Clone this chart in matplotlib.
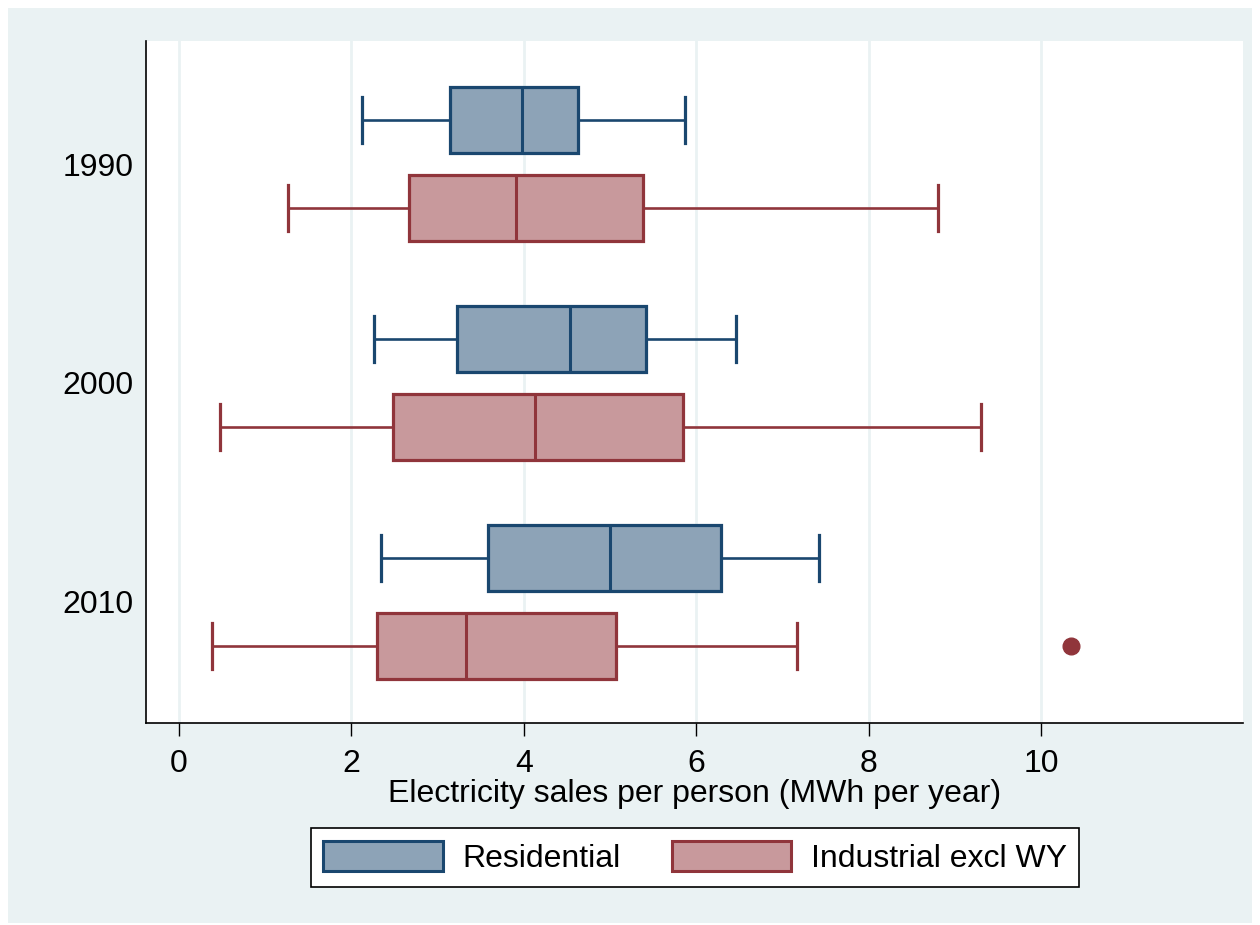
import matplotlib
matplotlib.use("Agg")
import matplotlib.pyplot as plt
from matplotlib.patches import Patch, Rectangle

plt.rcParams['font.family'] = ['Liberation Sans', 'DejaVu Sans']

years = ["1990", "2000", "2010"]
series = ["Residential", "Industrial excl WY"]

# five-number summaries per year
res_lo = [2.13, 2.26, 2.34]
res_q1 = [3.15, 3.23, 3.59]
res_med = [3.98, 4.54, 5.00]
res_q3 = [4.63, 5.42, 6.29]
res_hi = [5.87, 6.46, 7.42]
res_out = [[], [], []]

ind_lo = [1.27, 0.48, 0.38]
ind_q1 = [2.67, 2.48, 2.30]
ind_med = [3.91, 4.13, 3.33]
ind_q3 = [5.38, 5.85, 5.07]
ind_hi = [8.80, 9.30, 7.17]
ind_out = [[], [], [10.35]]

navy = "#1A476F"
navy_fill = "#8DA3B7"
maroon = "#90353B"
maroon_fill = "#C8999C"
bg = "#EAF2F3"
FS = 23

fig = plt.figure(figsize=(12.6, 9.25), dpi=100, facecolor="white")
fig.patches.append(Rectangle((8 / 1260, 2 / 925), 1244 / 1260, 915 / 925,
                             transform=fig.transFigure, facecolor=bg,
                             edgecolor="none", zorder=-10))
ax = fig.add_axes([146 / 1260, 1 - 723 / 925, (1243 - 146) / 1260, (723 - 41) / 925])
ax.set_facecolor("white")


def stats(lo, q1, med, q3, hi, out):
    return [dict(whislo=a, q1=b, med=c, q3=d, whishi=e, fliers=f)
            for a, b, c, d, e, f in zip(lo, q1, med, q3, hi, out)]


offset = 0.2
base = list(range(len(years)))
for st, pos, ec, fc in [
    (stats(res_lo, res_q1, res_med, res_q3, res_hi, res_out), [b - offset for b in base], navy, navy_fill),
    (stats(ind_lo, ind_q1, ind_med, ind_q3, ind_hi, ind_out), [b + offset for b in base], maroon, maroon_fill),
]:
    ax.bxp(st, positions=pos, widths=0.30, orientation='horizontal', patch_artist=True,
           capwidths=0.21, manage_ticks=False,
           boxprops=dict(facecolor=fc, edgecolor=ec, linewidth=2.3),
           medianprops=dict(color=ec, linewidth=2.2),
           whiskerprops=dict(color=ec, linewidth=1.9),
           capprops=dict(color=ec, linewidth=2.3),
           flierprops=dict(marker='o', markerfacecolor=ec, markeredgecolor=ec,
                           markersize=12, linestyle='none'))

ax.set_xlim(-0.38, 12.34)
ax.set_ylim(2.553, -0.562)
ax.set_xticks([0, 2, 4, 6, 8, 10])
ax.set_xticklabels(["0", "2", "4", "6", "8", "10"])
ax.set_yticks(base)
ax.set_yticklabels(years)
ax.tick_params(axis='x', length=9.5, width=1.0, pad=9, labelsize=FS, color='black')
ax.tick_params(axis='y', length=0, pad=9, labelsize=FS)
ax.grid(axis='x', color=bg, linewidth=2.0, zorder=0)
ax.set_axisbelow(True)
for s in ['top', 'right']:
    ax.spines[s].set_visible(False)
for s in ['left', 'bottom']:
    ax.spines[s].set_linewidth(1.2)
    ax.spines[s].set_color('black')

ax.set_xlabel("Electricity sales per person (MWh per year)", fontsize=FS, labelpad=0)

handles = [Patch(facecolor=navy_fill, edgecolor=navy, linewidth=2.2, label=series[0]),
           Patch(facecolor=maroon_fill, edgecolor=maroon, linewidth=2.2, label=series[1])]
leg = fig.legend(handles=handles, loc='center', bbox_to_anchor=(695 / 1260, 1 - 857.5 / 925),
                 bbox_transform=fig.transFigure, ncol=2, fontsize=FS, frameon=True,
                 fancybox=False, edgecolor='black', handlelength=3.75, handleheight=1.05,
                 handletextpad=0.6, columnspacing=1.6, borderpad=0.4, framealpha=1.0)
leg.get_frame().set_linewidth(1.2)
leg.get_frame().set_facecolor('white')

fig.savefig("out.png", dpi=100, facecolor=fig.get_facecolor())
